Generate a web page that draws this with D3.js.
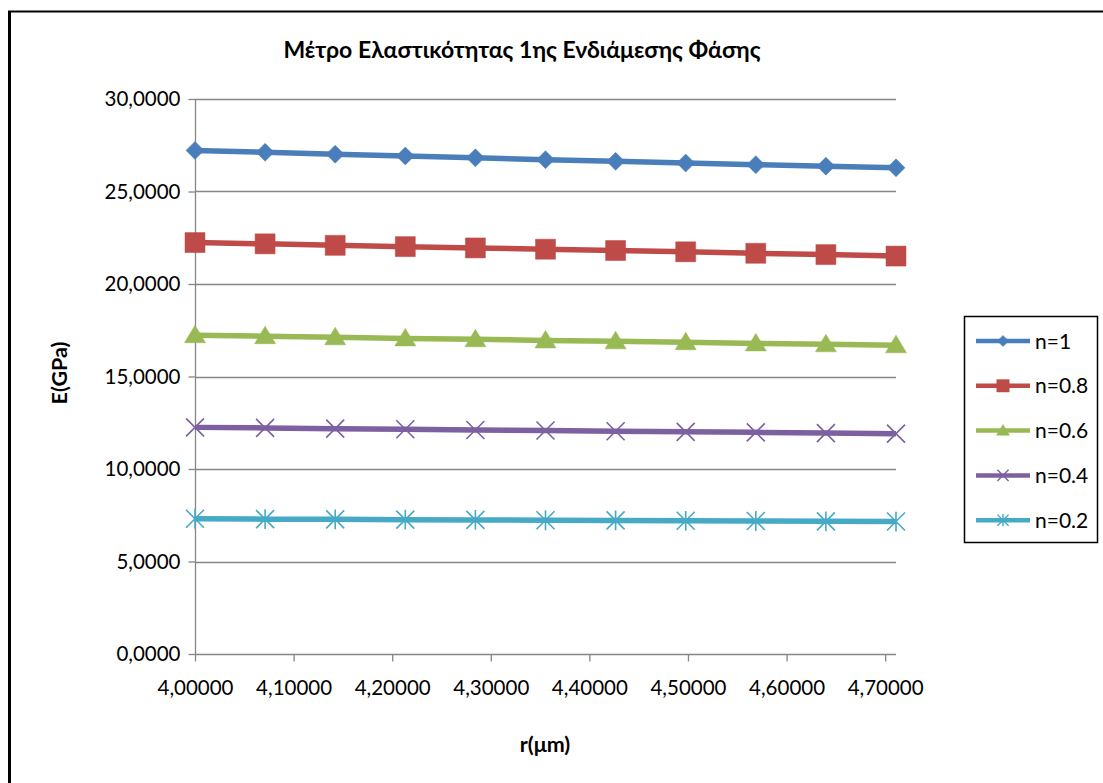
<!DOCTYPE html>
<html>
<head>
<meta charset="utf-8">
<script src="https://cdn.jsdelivr.net/npm/d3@7"></script>
<style>
  html, body { margin: 0; padding: 0; background: #fff; }
  svg { display: block; }
  text { font-family: Lato, "Noto Sans", sans-serif; fill: #000; }
</style>
</head>
<body>
<svg id="chart" width="1103" height="783"></svg>
<script>
// Radius values (μm)
const radii = [4.0000, 4.0711, 4.1422, 4.2133, 4.2844, 4.3555, 4.4266, 4.4977, 4.5688, 4.6399, 4.7110];

// Elastic modulus E (GPa) for each volume fraction n
const seriesNames = ["n=1", "n=0.8", "n=0.6", "n=0.4", "n=0.2"];
const eN10 = [27.22, 27.12, 27.02, 26.92, 26.82, 26.72, 26.63, 26.54, 26.45, 26.37, 26.28];
const eN08 = [22.24, 22.17, 22.09, 22.02, 21.95, 21.88, 21.81, 21.74, 21.66, 21.59, 21.51];
const eN06 = [17.23, 17.18, 17.12, 17.06, 17.01, 16.95, 16.90, 16.85, 16.79, 16.74, 16.69];
const eN04 = [12.25, 12.22, 12.18, 12.15, 12.11, 12.08, 12.04, 12.01, 11.98, 11.94, 11.91];
const eN02 = [7.31, 7.29, 7.28, 7.26, 7.25, 7.23, 7.22, 7.20, 7.19, 7.17, 7.16];

const xTicks = [4.0, 4.1, 4.2, 4.3, 4.4, 4.5, 4.6, 4.7];
const yTicks = [0, 5, 10, 15, 20, 25, 30];

const titleText = "Μέτρο Ελαστικότητας 1ης Ενδιάμεσης Φάσης";
const xTitle = "r(μm)";
const yTitle = "E(GPa)";

const colors = ["#4A7EBB", "#BE4B48", "#98B954", "#7D60A0", "#46AAC5"];
const markers = ["diamond", "square", "triangle", "cross", "star"];
const allSeries = [eN10, eN08, eN06, eN04, eN02];

const svg = d3.select("#chart");

// Outer chart frame
svg.append("line").attr("x1", 9.5).attr("y1", 11).attr("x2", 9.5).attr("y2", 790)
  .attr("stroke", "#000").attr("stroke-width", 3);
svg.append("line").attr("x1", 8).attr("y1", 11.5).attr("x2", 1110).attr("y2", 11.5)
  .attr("stroke", "#000").attr("stroke-width", 2);

const plot = { left: 195, right: 896, top: 99, bottom: 654 };

const x = d3.scaleLinear().domain([4.0, radii[radii.length - 1]]).range([plot.left, plot.right]);
const y = d3.scaleLinear().domain([0, 30]).range([plot.bottom, plot.top]);

// Horizontal gridlines
svg.append("g").selectAll("line").data(yTicks.filter(d => d > 0)).join("line")
  .attr("x1", plot.left).attr("x2", plot.right)
  .attr("y1", d => Math.round(y(d)) + 0.5).attr("y2", d => Math.round(y(d)) + 0.5)
  .attr("stroke", "#868686").attr("stroke-width", 1.3);

const fmtY = v => d3.format(".4f")(v).replace(".", ",");
const fmtX = v => d3.format(".5f")(v).replace(".", ",");

// Y axis
const yAxis = svg.append("g").attr("transform", `translate(${plot.left + 0.5},0)`)
  .call(d3.axisLeft(y).tickValues(yTicks).tickFormat(fmtY).tickSize(7).tickPadding(8));
// X axis
const xAxis = svg.append("g").attr("transform", `translate(0,${plot.bottom + 0.5})`)
  .call(d3.axisBottom(x).tickValues(xTicks).tickFormat(fmtX).tickSize(7).tickPadding(19));

[yAxis, xAxis].forEach(g => {
  g.select(".domain").attr("stroke", "#868686").attr("stroke-width", 1.3);
  g.selectAll(".tick line").attr("stroke", "#868686").attr("stroke-width", 1.3);
  g.selectAll(".tick text").attr("font-family", "Lato, 'Noto Sans', sans-serif")
    .attr("font-size", 20.5).attr("fill", "#000");
});
// Domain paths without outer tick ends
yAxis.select(".domain").attr("d", `M0,${plot.top}V${plot.bottom}`);
xAxis.select(".domain").attr("d", `M${plot.left},0H${plot.right}`);

// Marker shapes
function markerPath(type, s) {
  switch (type) {
    case "diamond": return `M0,${-s}L${s},0L0,${s}L${-s},0Z`;
    case "square": return `M${-s},${-s}H${s}V${s}H${-s}Z`;
    case "triangle": return `M0,${-s}L${s * 1.05},${s * 0.75}L${-s * 1.05},${s * 0.75}Z`;
    case "cross": return `M${-s},${-s}L${s},${s}M${-s},${s}L${s},${-s}`;
    case "star": return `M${-s},${-s}L${s},${s}M${-s},${s}L${s},${-s}M0,${-s * 1.1}V${s * 1.1}`;
  }
}
const markerSize = [9, 10, 10, 9, 9];

const line = d3.line().x((d, i) => x(radii[i])).y(d => y(d));

allSeries.forEach((vals, k) => {
  const g = svg.append("g");
  g.append("path").attr("d", line(vals)).attr("fill", "none")
    .attr("stroke", colors[k]).attr("stroke-width", 5.5).attr("stroke-linejoin", "round");
  const filled = markers[k] === "diamond" || markers[k] === "square" || markers[k] === "triangle";
  g.selectAll("path.m").data(vals).join("path").attr("class", "m")
    .attr("transform", (d, i) => `translate(${x(radii[i])},${y(d)})`)
    .attr("d", markerPath(markers[k], markerSize[k]))
    .attr("fill", filled ? colors[k] : "none")
    .attr("stroke", colors[k]).attr("stroke-width", filled ? 0.5 : 1.6);
});

// Title
svg.append("text").attr("x", 522).attr("y", 58).attr("text-anchor", "middle")
  .attr("font-size", 23).attr("font-weight", "bold").text(titleText);

// Axis titles
svg.append("text").attr("x", 545).attr("y", 752).attr("text-anchor", "middle")
  .attr("font-size", 21.5).attr("font-weight", "bold").text(xTitle);
svg.append("text").attr("transform", "translate(67,373) rotate(-90)").attr("text-anchor", "middle")
  .attr("font-size", 21.5).attr("font-weight", "bold").text(yTitle);

// Legend
const legend = svg.append("g");
legend.append("rect").attr("x", 964.5).attr("y", 316.5).attr("width", 133).attr("height", 226)
  .attr("fill", "#fff").attr("stroke", "#000").attr("stroke-width", 1.5);
seriesNames.forEach((name, k) => {
  const ly = 341 + k * 44.8;
  legend.append("line").attr("x1", 976).attr("x2", 1030).attr("y1", ly).attr("y2", ly)
    .attr("stroke", colors[k]).attr("stroke-width", 4.5);
  const filled = markers[k] === "diamond" || markers[k] === "square" || markers[k] === "triangle";
  legend.append("path").attr("transform", `translate(1003,${ly})`)
    .attr("d", markerPath(markers[k], markerSize[k] * 0.62))
    .attr("fill", filled ? colors[k] : "none")
    .attr("stroke", colors[k]).attr("stroke-width", filled ? 0.5 : 1.4);
  legend.append("text").attr("x", 1035).attr("y", ly + 7.5).attr("font-size", 21).text(name);
});
</script>
</body>
</html>
